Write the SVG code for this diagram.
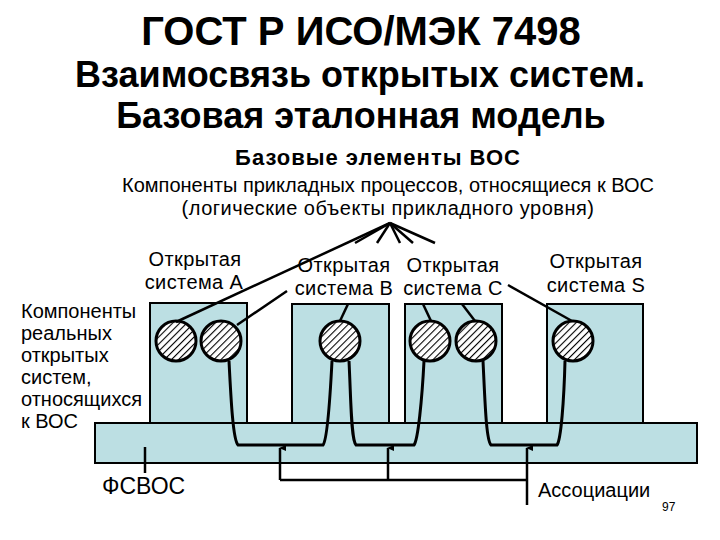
<svg xmlns="http://www.w3.org/2000/svg" width="720" height="540" viewBox="0 0 720 540">
<style>
text{font-family:"Liberation Sans",Arial,sans-serif;fill:#000}
.t{font-size:36px;font-weight:bold;text-anchor:middle}
.h{font-size:22px;font-weight:bold;text-anchor:middle;letter-spacing:1px}
.s{font-size:20px;text-anchor:middle}
.l{font-size:20px;text-anchor:middle;letter-spacing:0.4px}
.k{font-size:20px}
.box{fill:#bcdfe3;stroke:#000;stroke-width:2}
.ent{fill:url(#hatch);stroke:#000;stroke-width:3}
.w{fill:none;stroke:#000;stroke-width:3}
.c{fill:none;stroke:#000;stroke-width:2.5}
</style>
<defs>
<pattern id="hatch" patternUnits="userSpaceOnUse" width="5" height="5" patternTransform="rotate(45)">
<rect width="5" height="5" fill="#fff"/>
<line x1="0" y1="0" x2="0" y2="5" stroke="#000" stroke-width="2.2"/>
</pattern>
<marker id="ar" markerWidth="8" markerHeight="8" refX="4" refY="1" orient="auto-start-reverse" markerUnits="userSpaceOnUse">
<path d="M1,7 L4,0 L7,7 Z" fill="#000"/>
</marker>
</defs>
<rect width="720" height="540" fill="#fff"/>
<g id="title">
<text class="t" x="361" y="45" font-size="40" style="font-size:40px">ГОСТ Р ИСО/МЭК 7498</text>
<text class="t" x="360" y="87">Взаимосвязь открытых систем.</text>
<text class="t" x="361" y="128">Базовая эталонная модель</text>
<text class="h" x="378" y="165">Базовые элементы ВОС</text>
<text class="s" x="388" y="192">Компоненты прикладных процессов, относящиеся к ВОС</text>
<text class="s" x="388" y="215" letter-spacing="0.5">(логические объекты прикладного уровня)</text>
</g>
<g id="sysA">
<rect class="box" x="150" y="303" width="97" height="125"/>
<text class="l" x="195" y="266">Открытая</text>
<text class="l" x="194" y="289">система А</text>
<circle class="ent" cx="176" cy="341" r="20"/>
<circle class="ent" cx="221" cy="341" r="20"/>
</g>
<g id="sysB">
<rect class="box" x="292" y="304" width="97" height="124"/>
<text class="l" x="344" y="272">Открытая</text>
<text class="l" x="344" y="295">система В</text>
<circle class="ent" cx="340" cy="341" r="20"/>
</g>
<g id="sysC">
<rect class="box" x="405" y="304" width="97" height="124"/>
<text class="l" x="453" y="272">Открытая</text>
<text class="l" x="453" y="295">система С</text>
<circle class="ent" cx="430" cy="341" r="20"/>
<circle class="ent" cx="476" cy="341" r="20"/>
</g>
<g id="sysS">
<rect class="box" x="547" y="304" width="96" height="124"/>
<text class="l" x="596" y="268">Открытая</text>
<text class="l" x="596" y="292">система S</text>
<circle class="ent" cx="573" cy="341" r="20"/>
</g>
<g id="fsvos">
<rect class="box" x="95" y="423" width="602" height="40" stroke-width="2.5"/>
<text x="102" y="494" font-size="23">ФСВОС</text>
</g>
<g id="labels">
<text class="k" x="21" y="318">Компоненты</text>
<text class="k" x="21" y="340">реальных</text>
<text class="k" x="21" y="362">открытых</text>
<text class="k" x="21" y="384">систем,</text>
<text class="k" x="21" y="406">относящихся</text>
<text class="k" x="21" y="428">к ВОС</text>
<text class="k" x="538" y="497">Ассоциации</text>
<text x="662" y="511" font-size="12">97</text>
</g>
<g id="connectors">
<line class="c" x1="390" y1="223" x2="176" y2="322"/>
<line class="c" x1="390" y1="223" x2="355" y2="243"/>
<line class="c" x1="390" y1="223" x2="377" y2="243"/>
<line class="c" x1="390" y1="223" x2="400" y2="243"/>
<line class="c" x1="390" y1="223" x2="413" y2="243"/>
<line class="c" x1="390" y1="223" x2="435" y2="243"/>
<line class="c" x1="287" y1="291" x2="237" y2="325"/>
<line class="c" x1="348" y1="304" x2="340" y2="321"/>
<line class="c" x1="423" y1="304" x2="431" y2="321"/>
<line class="c" x1="462" y1="304" x2="475" y2="321"/>
<line class="c" x1="508" y1="285" x2="572" y2="321"/>
<path class="w" d="M229,361 C231,400 233,440 238,445 L323,445 C327,440 330,400 332,361"/>
<path class="w" d="M349,361 C351,400 351,440 356,445 L414,445 C418,440 422,400 424,361"/>
<path class="w" d="M483,361 C485,400 486,440 491,445 L557,445 C561,440 564,400 565,361"/>
<path class="c" d="M280,480 L527,480"/>
<line class="c" x1="280" y1="480" x2="280" y2="448" marker-end="url(#ar)"/>
<line class="c" x1="388" y1="480" x2="388" y2="448" marker-end="url(#ar)"/>
<line class="c" x1="527" y1="505" x2="527" y2="448" marker-end="url(#ar)"/>
<line class="c" x1="145" y1="447" x2="145" y2="473" stroke-width="2"/>
</g>
</svg>
